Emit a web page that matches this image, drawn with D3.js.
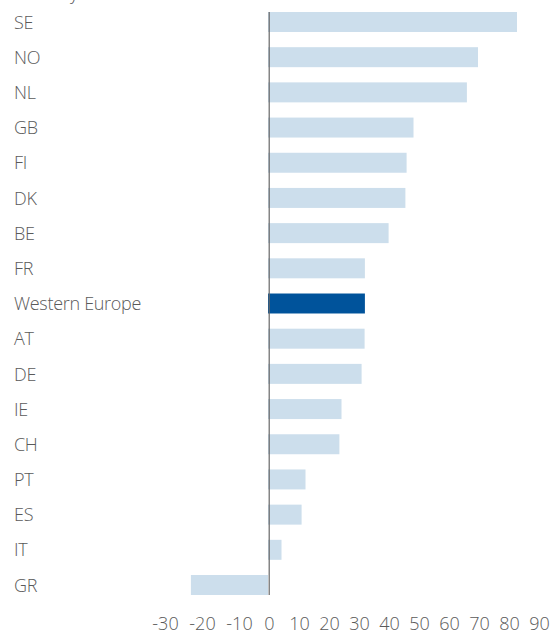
<!DOCTYPE html>
<html>
<head>
<meta charset="utf-8">
<script src="https://cdn.jsdelivr.net/npm/d3@7"></script>
<style>
  html, body { margin: 0; padding: 0; background: #fff; }
  svg { display: block; }
  text { font-family: "Open Sans", sans-serif; font-weight: 300; fill: #5a5a5a; }
</style>
</head>
<body>
<svg id="chart" width="560" height="632"></svg>
<script>
// Countries, ordered top to bottom
const countries = ["SE", "NO", "NL", "GB", "FI", "DK", "BE", "FR", "Western Europe",
                   "AT", "DE", "IE", "CH", "PT", "ES", "IT", "GR"];
const values = [83, 70, 66.3, 48.5, 46.2, 45.8, 40.2, 32.3, 32.3,
                32.2, 31.2, 24.5, 23.8, 12.5, 11.2, 4.5, -25.7];
const highlight = "Western Europe";
const xTicks = [-30, -20, -10, 0, 10, 20, 30, 40, 50, 60, 70, 80, 90];

const svg = d3.select("#chart");

const x = d3.scaleLinear().domain([-30, 90]).range([178, 538]);
const y = d3.scaleBand().domain(countries).range([4.4, 602.6]).paddingInner(0.432).paddingOuter(0.216);

// Heading line, scrolled up past the top edge
svg.append("text").attr("x", 14).attr("y", -0.5).attr("font-size", 18).text("Country");

// Bars
svg.append("g").selectAll("rect")
  .data(countries)
  .join("rect")
  .attr("x", (d, i) => x(Math.min(0, values[i])))
  .attr("y", d => y(d))
  .attr("width", (d, i) => Math.abs(x(values[i]) - x(0)))
  .attr("height", y.bandwidth())
  .attr("fill", d => d === highlight ? "#00539b" : "#ccdeec");

// Zero line
svg.append("line")
  .attr("x1", x(0) + 1.2).attr("x2", x(0) + 1.2)
  .attr("y1", 12).attr("y2", 595)
  .attr("stroke", "#666").attr("stroke-width", 1.2);

// Category labels
svg.append("g").selectAll("text")
  .data(countries)
  .join("text")
  .attr("x", 14)
  .attr("y", d => y(d) + y.bandwidth() / 2)
  .attr("dy", "0.37em")
  .attr("font-size", 18)
  .attr("letter-spacing", "-0.3px")
  .text(d => d);

// Value axis labels; negative labels spread out a little to leave room for the minus sign
const xAxis = d3.axisBottom(x).tickValues(xTicks).tickSize(0).tickPadding(0)
  .tickFormat(d => d < 0 ? "-" + Math.abs(d) : String(d));
const ax = svg.append("g").attr("transform", "translate(1,617)").call(xAxis);
ax.select(".domain").remove();
ax.selectAll("text")
  .attr("font-size", 18)
  .attr("fill", "#5a5a5a")
  .attr("dx", d => Math.min(0, (d + 10) * 0.7))
  .style("font-family", "'Open Sans', sans-serif")
  .style("font-weight", 300);
</script>
</body>
</html>
